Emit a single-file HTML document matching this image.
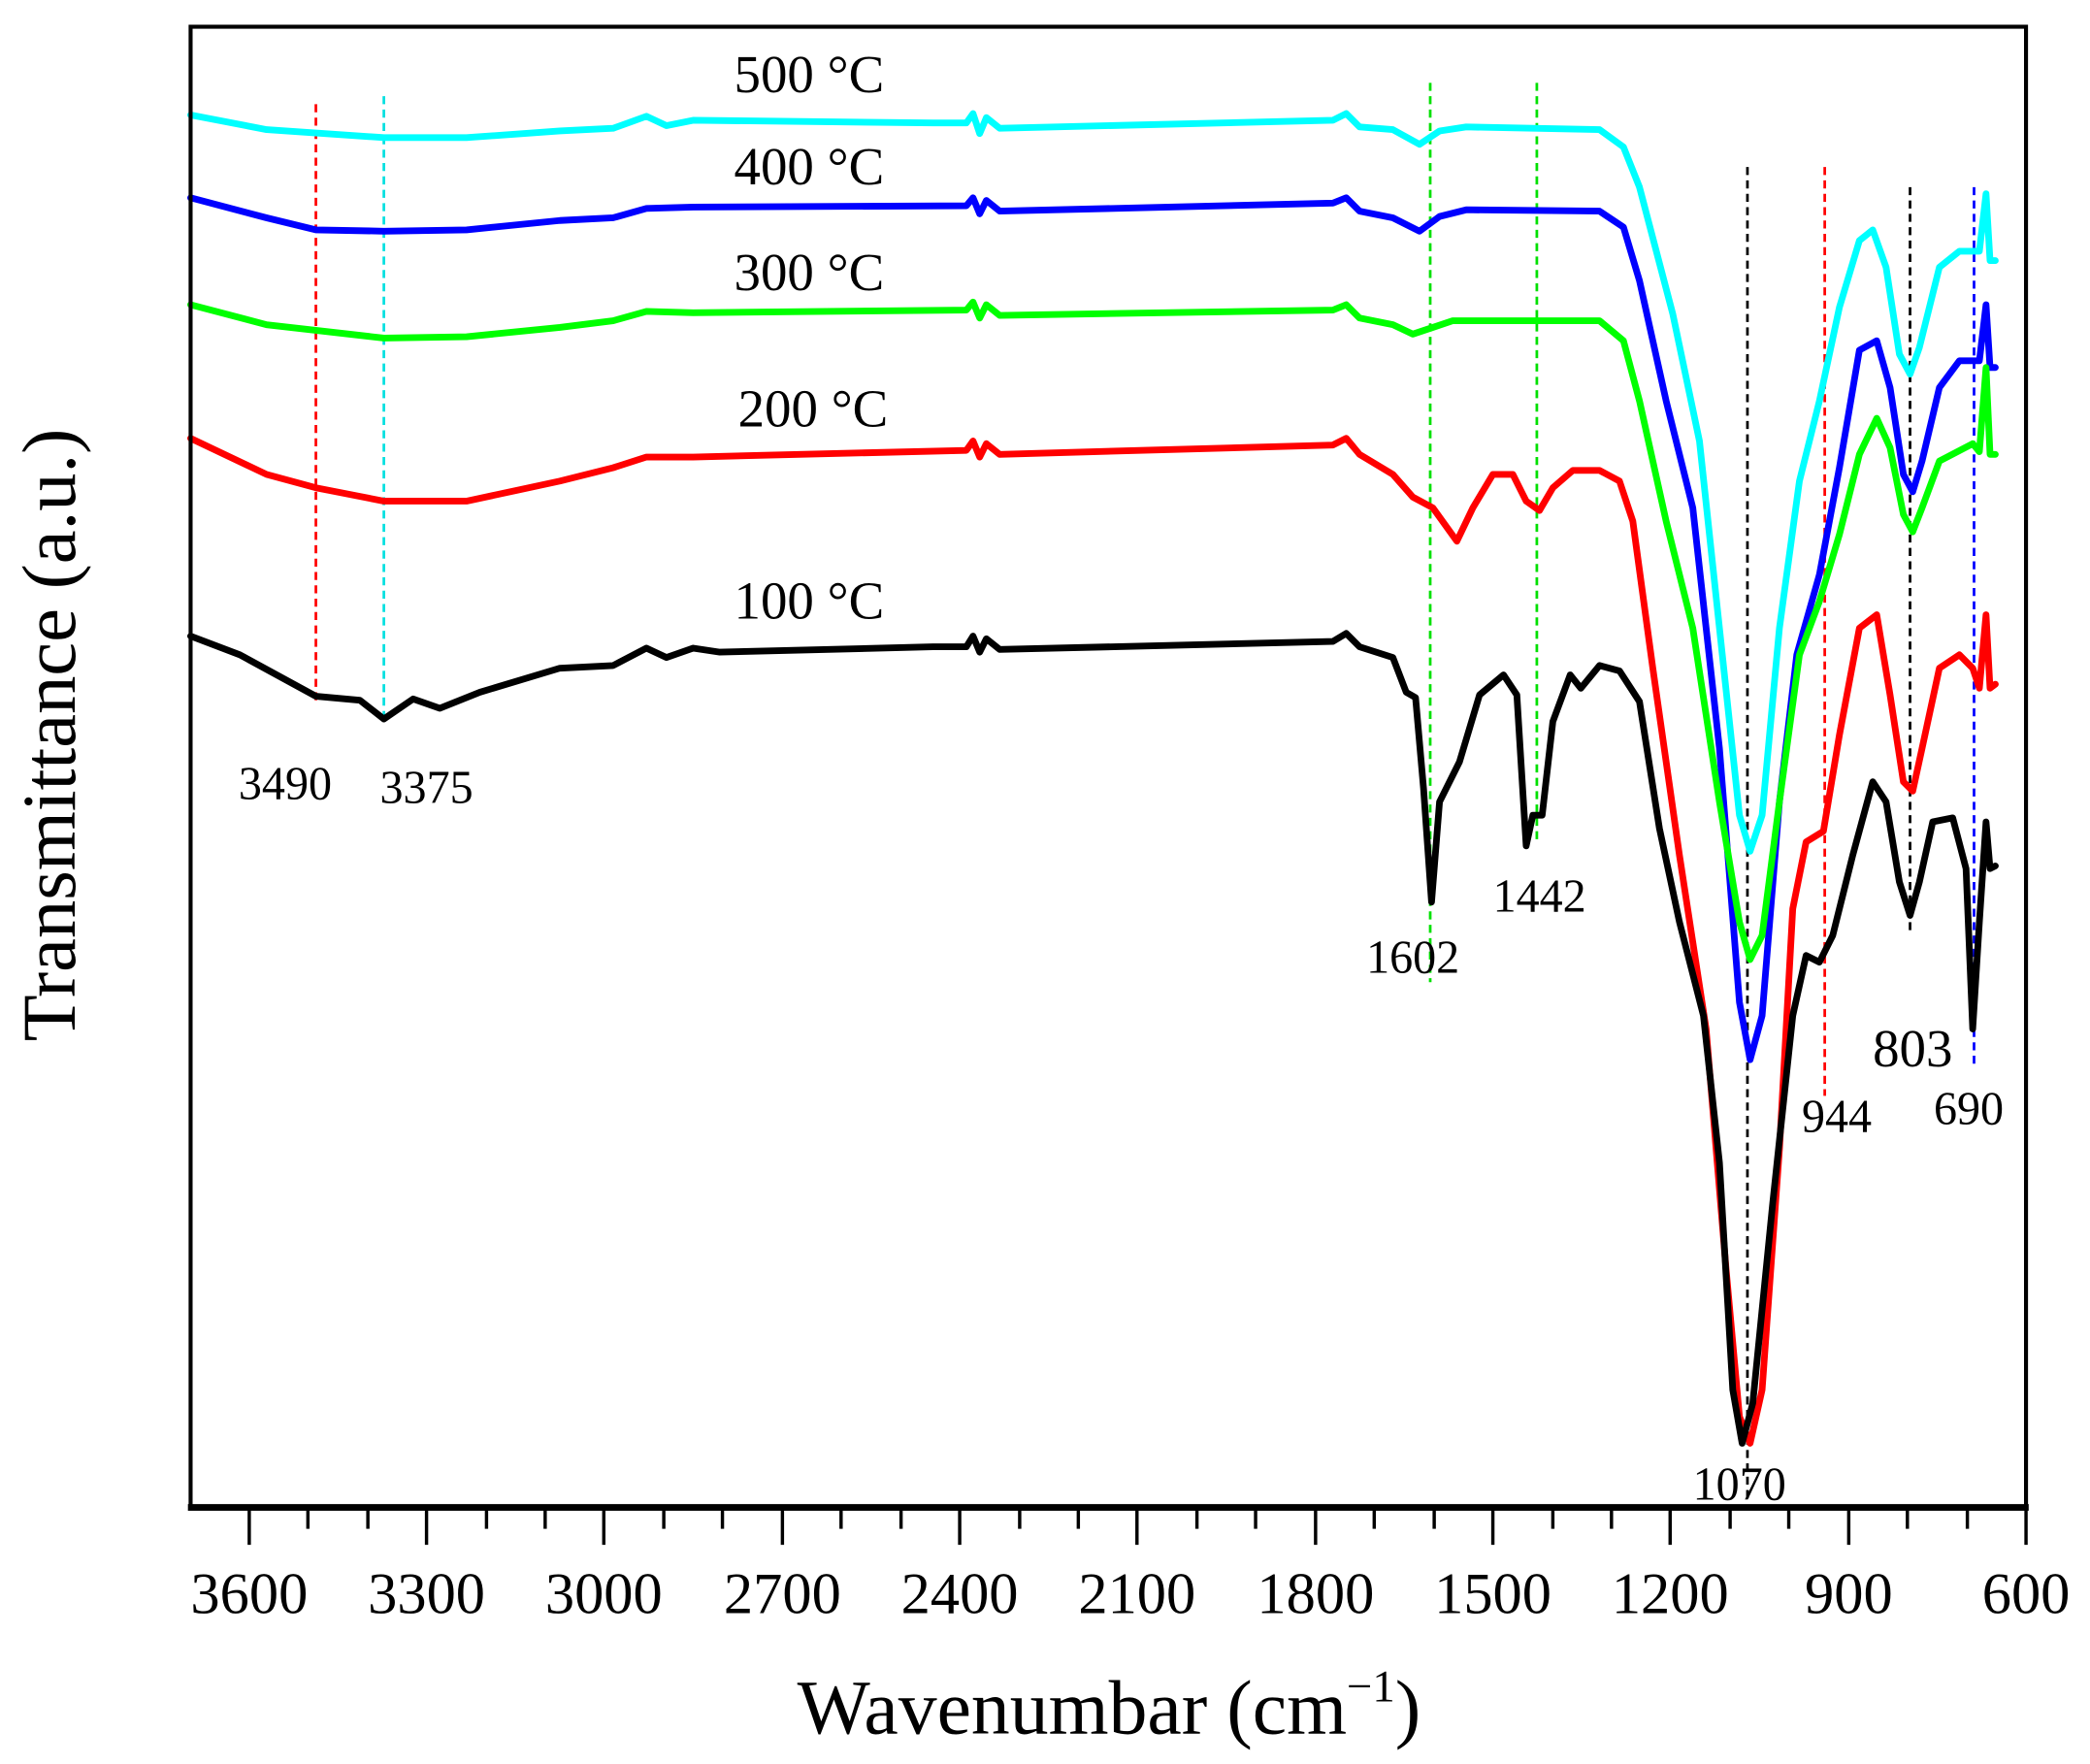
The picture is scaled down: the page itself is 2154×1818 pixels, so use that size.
<!DOCTYPE html>
<html><head><style>html,body{margin:0;padding:0;background:#fff}svg{display:block}</style></head><body>
<svg width="2154" height="1818" viewBox="0 0 1568 1320" preserveAspectRatio="none" xmlns="http://www.w3.org/2000/svg" font-family="'Liberation Serif', serif">
<rect x="0" y="0" width="1568" height="1320" fill="#fff"/>
<g stroke-width="2" stroke-dasharray="6,4" fill="none">
<line x1="237" y1="78" x2="237" y2="525" stroke="#ff0000"/>
<line x1="288" y1="72" x2="288" y2="540" stroke="#00e0e0"/>
<line x1="1073" y1="62" x2="1073" y2="735" stroke="#00e000"/>
<line x1="1153" y1="62" x2="1153" y2="630" stroke="#00e000"/>
<line x1="1311" y1="125" x2="1311" y2="1125" stroke="#000"/>
<line x1="1369" y1="125" x2="1369" y2="820" stroke="#ff0000"/>
<line x1="1433" y1="140" x2="1433" y2="700" stroke="#000"/>
<line x1="1481" y1="140" x2="1481" y2="800" stroke="#0000ff"/>
</g>
<g fill="none" stroke-width="5" stroke-linejoin="round" stroke-linecap="round">
<polyline stroke="#00ffff" points="143,86 200,97 288,103 350,103 420,98 460,96 485,87 500,94 520,90 700,92 725,92 730,85 735,100 740,88 750,96 1000,90 1010,85 1020,95 1045,97 1065,108 1080,98 1100,95 1200,97 1218,110 1230,140 1255,235 1275,330 1290,470 1305,610 1313,637 1322,610 1335,470 1350,360 1365,300 1380,230 1395,180 1405,172 1415,200 1425,265 1433,280 1440,260 1455,200 1470,188 1485,188 1490,145 1493,195 1497,195"/>
<polyline stroke="#0000ff" points="143,148 200,163 237,172 288,173 350,172 420,165 460,163 485,156 520,155 725,154 730,148 735,160 740,150 750,158 1000,152 1010,148 1020,158 1045,163 1065,173 1080,162 1100,157 1200,158 1218,170 1230,210 1250,300 1270,380 1290,560 1305,750 1313,793 1322,760 1335,600 1348,490 1365,430 1380,350 1395,262 1408,255 1418,290 1428,355 1435,368 1442,345 1455,290 1470,270 1485,270 1490,228 1493,275 1497,275"/>
<polyline stroke="#00ff00" points="143,228 200,243 288,253 350,252 420,245 460,240 485,233 520,234 725,232 730,226 735,238 740,228 750,236 1000,232 1010,228 1020,238 1045,243 1060,250 1075,245 1090,240 1200,240 1218,255 1230,300 1250,390 1270,470 1290,600 1305,690 1313,718 1322,700 1335,600 1350,490 1365,450 1380,400 1395,340 1408,313 1418,335 1428,385 1435,398 1442,380 1455,345 1480,332 1485,338 1490,275 1493,340 1497,340"/>
<polyline stroke="#ff0000" points="143,328 200,355 237,365 288,375 350,375 420,360 460,350 485,342 520,342 725,337 730,330 735,342 740,332 750,340 1000,333 1010,328 1020,340 1045,355 1060,372 1075,380 1093,405 1105,380 1120,355 1135,355 1145,375 1155,382 1165,365 1180,352 1200,352 1215,360 1225,390 1240,500 1260,640 1280,770 1295,950 1305,1060 1313,1080 1322,1040 1335,860 1345,680 1355,630 1368,622 1380,550 1395,470 1408,460 1418,520 1428,585 1435,592 1442,560 1455,500 1470,490 1480,500 1485,515 1490,460 1493,515 1497,512"/>
<polyline stroke="#000" points="143,476 180,490 237,521 270,524 288,538 310,523 330,530 360,518 420,500 460,498 485,485 500,492 520,485 540,488 700,484 725,484 730,476 735,488 740,478 750,486 1000,480 1010,474 1020,484 1045,492 1055,518 1062,522 1068,590 1074,675 1080,600 1095,570 1110,520 1128,505 1138,520 1145,633 1150,610 1157,610 1165,540 1178,505 1186,515 1200,498 1215,502 1230,525 1245,620 1260,690 1278,760 1290,870 1300,1040 1307,1080 1315,1050 1330,900 1345,760 1355,715 1365,720 1375,700 1390,640 1405,585 1415,600 1425,660 1433,685 1440,660 1450,615 1465,612 1475,650 1480,770 1485,690 1490,615 1493,650 1497,648"/>
</g>
<rect x="143" y="20" width="1377" height="1108" fill="none" stroke="#000" stroke-width="3"/>
<line x1="141" y1="1128" x2="1522" y2="1128" stroke="#000" stroke-width="5"/>
<g stroke="#000" stroke-width="2.5">
<line x1="187" y1="1128" x2="187" y2="1156"/><line x1="231" y1="1128" x2="231" y2="1144"/>
<line x1="320" y1="1128" x2="320" y2="1156"/><line x1="276" y1="1128" x2="276" y2="1144"/>
<line x1="365" y1="1128" x2="365" y2="1144"/><line x1="453" y1="1128" x2="453" y2="1156"/>
<line x1="409" y1="1128" x2="409" y2="1144"/><line x1="498" y1="1128" x2="498" y2="1144"/>
<line x1="587" y1="1128" x2="587" y2="1156"/><line x1="542" y1="1128" x2="542" y2="1144"/>
<line x1="631" y1="1128" x2="631" y2="1144"/><line x1="720" y1="1128" x2="720" y2="1156"/>
<line x1="676" y1="1128" x2="676" y2="1144"/><line x1="765" y1="1128" x2="765" y2="1144"/>
<line x1="853" y1="1128" x2="853" y2="1156"/><line x1="809" y1="1128" x2="809" y2="1144"/>
<line x1="898" y1="1128" x2="898" y2="1144"/><line x1="987" y1="1128" x2="987" y2="1156"/>
<line x1="942" y1="1128" x2="942" y2="1144"/><line x1="1031" y1="1128" x2="1031" y2="1144"/>
<line x1="1120" y1="1128" x2="1120" y2="1156"/><line x1="1076" y1="1128" x2="1076" y2="1144"/>
<line x1="1165" y1="1128" x2="1165" y2="1144"/><line x1="1253" y1="1128" x2="1253" y2="1156"/>
<line x1="1209" y1="1128" x2="1209" y2="1144"/><line x1="1298" y1="1128" x2="1298" y2="1144"/>
<line x1="1387" y1="1128" x2="1387" y2="1156"/><line x1="1342" y1="1128" x2="1342" y2="1144"/>
<line x1="1431" y1="1128" x2="1431" y2="1144"/><line x1="1520" y1="1128" x2="1520" y2="1156"/>
<line x1="1476" y1="1128" x2="1476" y2="1144"/>
</g>
<g font-size="44" text-anchor="middle" fill="#000">
<text x="187" y="1207">3600</text><text x="320" y="1207">3300</text><text x="453" y="1207">3000</text>
<text x="587" y="1207">2700</text><text x="720" y="1207">2400</text><text x="853" y="1207">2100</text>
<text x="987" y="1207">1800</text><text x="1120" y="1207">1500</text><text x="1253" y="1207">1200</text>
<text x="1387" y="1207">900</text><text x="1520" y="1207">600</text>
</g>
<text x="832" y="1297" font-size="58" text-anchor="middle">Wavenumbar (cm<tspan font-size="34" dy="-24">−1</tspan><tspan dy="24">)</tspan></text>
<text transform="translate(56,550) rotate(-90)" font-size="57" text-anchor="middle">Transmittance (a.u.)</text>
<g font-size="40" text-anchor="middle">
<text x="607" y="69">500 °C</text><text x="607" y="138">400 °C</text>
<text x="607" y="217">300 °C</text><text x="610" y="319">200 °C</text>
<text x="607" y="463">100 °C</text>
</g>
<g font-size="35" text-anchor="middle">
<text x="214" y="598">3490</text><text x="320" y="601">3375</text>
<text x="1060" y="728">1602</text><text x="1155" y="682">1442</text>
<text x="1305" y="1122">1070</text><text x="1378" y="847">944</text>
<text x="1435" y="798" font-size="40">803</text><text x="1477" y="841">690</text>
</g>
</svg>
</body></html>
